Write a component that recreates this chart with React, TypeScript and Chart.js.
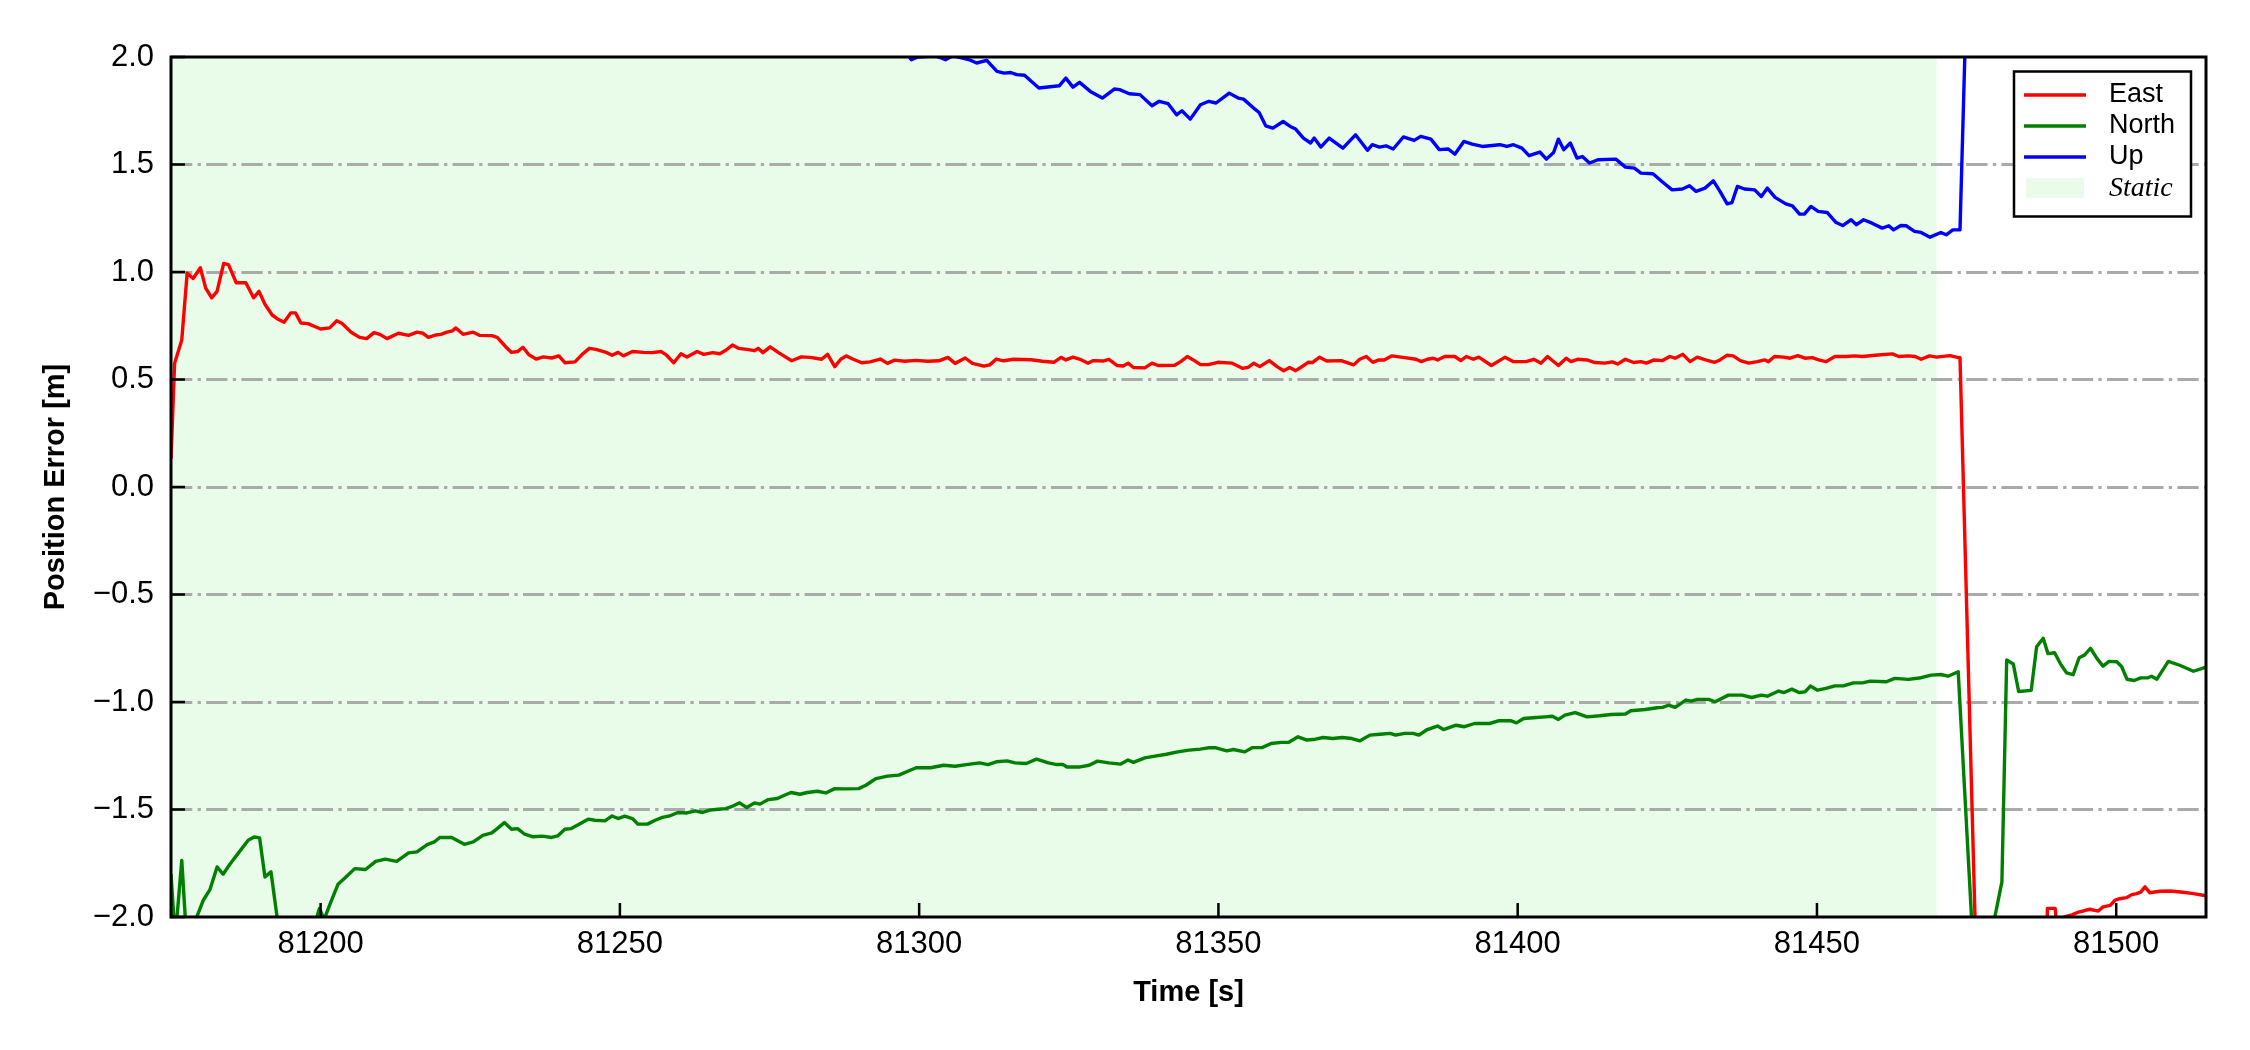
import React, { useEffect, useRef } from "react";
import { Chart, registerables } from "chart.js";

Chart.register(...registerables);

const CANVAS_W = 2250;
const CANVAS_H = 1050;

// Time [s] range and position error [m] range
const xRange = [81175, 81515];
const yRange = [-2, 2];
const xTickValues = [81200, 81250, 81300, 81350, 81400, 81450, 81500];
const yTickValues = [-2, -1.5, -1, -0.5, 0, 0.5, 1, 1.5, 2];
const staticSpan = [81175, 81470];

const legendLabels = ["East", "North", "Up", "Static"];
const seriesColors = ["#ff0000", "#008000", "#0000ff"];
const staticColor = "rgb(233,252,233)";

const eastSeries: [number, number][] = [
  [81175.0, 0.13], [81175.6, 0.575], [81176.8, 0.684], [81177.7, 0.995], [81178.7, 0.97],
  [81179.9, 1.02], [81180.8, 0.925], [81181.8, 0.88], [81182.7, 0.91], [81183.8, 1.04],
  [81184.6, 1.034], [81185.9, 0.95], [81187.5, 0.95], [81188.8, 0.88], [81189.7, 0.91],
  [81190.7, 0.85], [81191.9, 0.8], [81192.9, 0.78], [81193.9, 0.766], [81195.0, 0.81],
  [81195.8, 0.81], [81196.7, 0.763], [81197.9, 0.76], [81200.0, 0.735], [81201.5, 0.74],
  [81202.7, 0.773], [81203.6, 0.76], [81205.1, 0.72], [81206.5, 0.696], [81207.7, 0.69],
  [81208.9, 0.718], [81209.9, 0.71], [81211.1, 0.69], [81213.0, 0.715], [81214.7, 0.705],
  [81216.1, 0.72], [81217.1, 0.715], [81218.0, 0.696], [81219.2, 0.707], [81220.1, 0.71],
  [81221.1, 0.72], [81222.0, 0.726], [81222.6, 0.74], [81223.8, 0.71], [81225.5, 0.72],
  [81226.6, 0.705], [81228.6, 0.704], [81229.5, 0.696], [81231.0, 0.65], [81231.9, 0.626],
  [81232.9, 0.63], [81233.8, 0.65], [81234.8, 0.615], [81236.0, 0.595], [81237.2, 0.605],
  [81238.6, 0.6], [81239.8, 0.61], [81240.8, 0.578], [81242.5, 0.582], [81243.7, 0.617],
  [81244.9, 0.645], [81246.0, 0.64], [81247.7, 0.626], [81248.7, 0.613], [81249.7, 0.626],
  [81250.6, 0.61], [81252.1, 0.63], [81254.0, 0.626], [81255.4, 0.625], [81256.9, 0.63],
  [81257.8, 0.613], [81259.0, 0.578], [81260.2, 0.62], [81261.2, 0.605], [81262.9, 0.63],
  [81264.0, 0.617], [81265.5, 0.625], [81266.7, 0.62], [81267.7, 0.636], [81268.8, 0.66],
  [81269.8, 0.645], [81271.2, 0.64], [81272.5, 0.634], [81273.1, 0.645], [81273.9, 0.625],
  [81275.1, 0.652], [81276.5, 0.625], [81278.7, 0.587], [81280.3, 0.605], [81281.8, 0.603],
  [81283.7, 0.594], [81284.7, 0.617], [81285.9, 0.56], [81286.9, 0.594], [81287.8, 0.61],
  [81289.0, 0.594], [81290.4, 0.578], [81291.8, 0.582], [81293.5, 0.595], [81294.7, 0.575],
  [81295.9, 0.59], [81297.6, 0.585], [81299.5, 0.589], [81301.4, 0.585], [81303.3, 0.587],
  [81304.8, 0.603], [81306.0, 0.575], [81307.7, 0.6], [81308.9, 0.575], [81310.8, 0.562],
  [81311.8, 0.568], [81312.9, 0.595], [81314.1, 0.587], [81315.8, 0.594], [81318.7, 0.592],
  [81320.6, 0.585], [81322.5, 0.58], [81323.7, 0.603], [81324.5, 0.591], [81325.7, 0.604],
  [81326.9, 0.594], [81328.2, 0.576], [81329.1, 0.588], [81330.7, 0.586], [81331.7, 0.594],
  [81333.1, 0.565], [81334.1, 0.563], [81334.9, 0.576], [81335.8, 0.556], [81337.7, 0.554],
  [81338.9, 0.576], [81339.9, 0.565], [81342.7, 0.566], [81343.7, 0.583], [81344.8, 0.607],
  [81345.8, 0.591], [81347.0, 0.569], [81348.3, 0.569], [81349.9, 0.58], [81352.3, 0.576],
  [81354.0, 0.552], [81355.0, 0.557], [81355.9, 0.576], [81356.9, 0.56], [81358.5, 0.588],
  [81359.8, 0.56], [81360.9, 0.541], [81361.9, 0.556], [81362.9, 0.541], [81363.8, 0.557],
  [81365.0, 0.58], [81365.7, 0.579], [81366.9, 0.604], [81368.1, 0.586], [81370.5, 0.588],
  [81372.6, 0.568], [81373.6, 0.594], [81374.7, 0.607], [81375.8, 0.58], [81376.8, 0.591],
  [81377.7, 0.591], [81379.0, 0.61], [81381.1, 0.602], [81383.0, 0.594], [81383.9, 0.583],
  [81384.9, 0.594], [81385.9, 0.599], [81386.6, 0.591], [81387.8, 0.607], [81389.5, 0.607],
  [81390.5, 0.588], [81391.4, 0.607], [81392.6, 0.594], [81393.5, 0.604], [81395.6, 0.565],
  [81397.9, 0.604], [81399.3, 0.583], [81401.4, 0.583], [81402.7, 0.594], [81403.9, 0.576],
  [81405.0, 0.607], [81406.8, 0.565], [81408.1, 0.599], [81408.9, 0.583], [81410.0, 0.594],
  [81411.6, 0.591], [81412.9, 0.579], [81414.6, 0.576], [81415.8, 0.582], [81416.7, 0.572],
  [81418.0, 0.594], [81419.4, 0.579], [81420.6, 0.583], [81421.5, 0.576], [81422.8, 0.591],
  [81424.2, 0.588], [81425.4, 0.607], [81426.3, 0.599], [81427.6, 0.617], [81428.8, 0.583],
  [81430.0, 0.604], [81431.4, 0.591], [81432.9, 0.58], [81433.8, 0.591], [81435.0, 0.613],
  [81436.0, 0.61], [81437.2, 0.588], [81438.6, 0.576], [81440.0, 0.583], [81441.3, 0.591],
  [81441.9, 0.583], [81442.9, 0.607], [81444.4, 0.604], [81445.5, 0.599], [81446.8, 0.611],
  [81448.0, 0.599], [81449.2, 0.602], [81450.3, 0.591], [81451.5, 0.583], [81453.0, 0.607],
  [81454.9, 0.607], [81456.3, 0.61], [81457.6, 0.607], [81459.7, 0.613], [81462.6, 0.619],
  [81463.7, 0.607], [81465.3, 0.61], [81466.4, 0.607], [81467.4, 0.594], [81468.8, 0.61],
  [81470.0, 0.604], [81472.2, 0.611], [81473.3, 0.604], [81473.9, 0.601], [81477.0, -2.62],
  [81487.5, -2.6], [81488.3, -2.3], [81488.5, -1.96], [81489.8, -1.96], [81490.3, -2.12],
  [81491.3, -2.0], [81492.6, -1.99], [81493.7, -1.977], [81494.5, -1.972], [81495.6, -1.964],
  [81496.4, -1.969], [81497.0, -1.972], [81497.8, -1.953], [81499.0, -1.946], [81499.8, -1.922],
  [81500.6, -1.915], [81501.7, -1.91], [81502.6, -1.896], [81503.4, -1.891], [81504.1, -1.884],
  [81504.8, -1.86], [81505.6, -1.887], [81507.3, -1.88], [81509.0, -1.879], [81511.2, -1.885],
  [81512.9, -1.891], [81515.0, -1.901],
];

const northSeries: [number, number][] = [
  [81175.0, -1.8], [81175.7, -2.1], [81176.8, -1.737], [81177.6, -2.1], [81178.6, -2.05],
  [81180.4, -1.922], [81181.5, -1.873], [81182.7, -1.767], [81183.7, -1.801], [81184.9, -1.752],
  [81186.6, -1.69], [81187.9, -1.643], [81188.9, -1.628], [81189.8, -1.632], [81190.7, -1.814],
  [81191.7, -1.79], [81193.7, -2.2], [81198.5, -2.08], [81199.8, -1.961], [81200.6, -2.01],
  [81201.6, -1.938], [81202.9, -1.848], [81204.1, -1.817], [81205.7, -1.775], [81207.5, -1.779],
  [81209.2, -1.741], [81210.8, -1.731], [81212.7, -1.741], [81214.7, -1.702], [81216.1, -1.697],
  [81217.8, -1.663], [81219.0, -1.651], [81219.9, -1.63], [81221.9, -1.63], [81224.0, -1.662],
  [81225.5, -1.651], [81227.1, -1.62], [81228.6, -1.609], [81229.5, -1.589], [81230.7, -1.561],
  [81231.9, -1.592], [81232.9, -1.589], [81234.1, -1.615], [81235.5, -1.627], [81237.0, -1.624],
  [81238.6, -1.63], [81239.6, -1.623], [81240.8, -1.592], [81241.8, -1.589], [81243.1, -1.57],
  [81244.7, -1.545], [81245.8, -1.55], [81247.5, -1.553], [81248.7, -1.53], [81249.7, -1.542],
  [81250.8, -1.531], [81252.1, -1.542], [81253.0, -1.568], [81254.6, -1.568], [81255.9, -1.55],
  [81257.1, -1.537], [81258.3, -1.53], [81259.7, -1.514], [81261.2, -1.516], [81262.6, -1.506],
  [81263.8, -1.514], [81265.0, -1.503], [81266.4, -1.499], [81267.7, -1.496], [81268.8, -1.485],
  [81270.0, -1.469], [81271.2, -1.491], [81272.5, -1.469], [81273.4, -1.475], [81274.8, -1.454],
  [81276.3, -1.449], [81277.5, -1.434], [81278.6, -1.421], [81280.1, -1.429], [81281.3, -1.421],
  [81283.0, -1.415], [81284.4, -1.423], [81285.9, -1.403], [81287.5, -1.404], [81289.9, -1.403],
  [81291.1, -1.387], [81292.8, -1.356], [81294.7, -1.345], [81296.6, -1.34], [81298.1, -1.322],
  [81299.5, -1.306], [81301.9, -1.306], [81304.1, -1.294], [81306.0, -1.299], [81307.9, -1.291],
  [81310.1, -1.283], [81311.5, -1.291], [81312.9, -1.278], [81314.7, -1.274], [81316.0, -1.283],
  [81317.9, -1.286], [81319.6, -1.266], [81321.6, -1.283], [81323.0, -1.291], [81324.0, -1.29],
  [81324.7, -1.302], [81326.9, -1.302], [81328.4, -1.294], [81329.8, -1.275], [81331.7, -1.283],
  [81333.6, -1.289], [81334.9, -1.27], [81335.8, -1.281], [81337.7, -1.26], [81339.4, -1.252],
  [81341.3, -1.243], [81343.2, -1.232], [81345.1, -1.224], [81347.0, -1.219], [81348.5, -1.212],
  [81349.6, -1.213], [81351.4, -1.227], [81352.5, -1.221], [81354.4, -1.232], [81355.7, -1.212],
  [81357.3, -1.212], [81358.8, -1.193], [81360.5, -1.188], [81361.7, -1.188], [81363.3, -1.162],
  [81364.8, -1.177], [81366.2, -1.173], [81367.5, -1.165], [81369.1, -1.17], [81370.7, -1.165],
  [81372.3, -1.17], [81373.6, -1.181], [81375.3, -1.154], [81377.0, -1.15], [81378.7, -1.146],
  [81379.6, -1.154], [81381.1, -1.146], [81382.5, -1.146], [81383.5, -1.154], [81384.9, -1.128],
  [81386.6, -1.112], [81387.6, -1.128], [81389.7, -1.108], [81391.1, -1.115], [81392.8, -1.1],
  [81395.3, -1.1], [81396.9, -1.087], [81398.8, -1.087], [81399.8, -1.097], [81401.0, -1.077],
  [81403.1, -1.072], [81404.6, -1.069], [81405.8, -1.066], [81406.8, -1.081], [81407.9, -1.061],
  [81409.6, -1.049], [81411.6, -1.069], [81413.7, -1.064], [81415.6, -1.058], [81418.0, -1.056],
  [81418.9, -1.041], [81421.3, -1.035], [81423.3, -1.027], [81424.2, -1.025], [81425.2, -1.015],
  [81426.3, -1.025], [81428.1, -0.991], [81429.0, -0.996], [81430.0, -0.988], [81431.9, -0.988],
  [81433.0, -0.999], [81435.2, -0.968], [81437.5, -0.968], [81439.1, -0.979], [81440.7, -0.968],
  [81441.7, -0.973], [81443.6, -0.949], [81444.5, -0.956], [81445.8, -0.94], [81447.0, -0.956],
  [81448.0, -0.953], [81448.9, -0.926], [81450.1, -0.945], [81451.5, -0.937], [81453.0, -0.925],
  [81454.4, -0.925], [81456.1, -0.911], [81457.6, -0.911], [81458.9, -0.903], [81461.6, -0.906],
  [81463.0, -0.89], [81465.3, -0.895], [81467.4, -0.887], [81469.1, -0.875], [81470.7, -0.872],
  [81471.9, -0.88], [81473.6, -0.859], [81476.5, -2.35], [81477.5, -2.5], [81479.0, -2.1],
  [81480.9, -1.837], [81481.7, -0.805], [81482.8, -0.823], [81483.7, -0.951], [81485.8, -0.946],
  [81486.7, -0.743], [81487.8, -0.704], [81488.6, -0.775], [81489.7, -0.771], [81490.8, -0.828],
  [81491.7, -0.864], [81492.8, -0.873], [81493.8, -0.794], [81494.7, -0.782], [81495.7, -0.75],
  [81496.8, -0.798], [81497.8, -0.833], [81498.8, -0.811], [81500.1, -0.813], [81500.9, -0.835],
  [81501.8, -0.894], [81503.0, -0.9], [81504.1, -0.888], [81505.3, -0.887], [81505.9, -0.88],
  [81506.8, -0.894], [81508.7, -0.811], [81510.6, -0.829], [81512.9, -0.857], [81515.0, -0.838],
];

const upSeries: [number, number][] = [
  [81175.0, 3.2], [81250.0, 2.6], [81290.0, 2.15], [81297.8, 2.02], [81298.7, 1.987],
  [81299.8, 2.0], [81302.7, 2.006], [81304.4, 1.987], [81305.6, 2.006], [81308.4, 1.987],
  [81309.6, 1.972], [81311.3, 1.984], [81313.0, 1.933], [81314.2, 1.925], [81315.3, 1.928],
  [81316.3, 1.918], [81317.6, 1.915], [81320.0, 1.856], [81323.4, 1.866], [81324.5, 1.902],
  [81325.7, 1.86], [81326.8, 1.882], [81328.6, 1.84], [81330.6, 1.809], [81332.6, 1.851],
  [81333.5, 1.848], [81335.1, 1.829], [81336.9, 1.825], [81338.9, 1.773], [81340.1, 1.794],
  [81341.6, 1.783], [81343.0, 1.731], [81343.9, 1.75], [81345.3, 1.711], [81347.0, 1.778],
  [81348.4, 1.794], [81349.6, 1.786], [81351.8, 1.832], [81353.3, 1.809], [81354.2, 1.804],
  [81356.2, 1.755], [81356.8, 1.742], [81357.9, 1.68], [81359.1, 1.669], [81360.8, 1.7],
  [81362.0, 1.677], [81362.9, 1.665], [81364.2, 1.623], [81365.4, 1.6], [81366.0, 1.623],
  [81367.1, 1.581], [81368.5, 1.623], [81370.8, 1.576], [81372.9, 1.638], [81374.9, 1.566],
  [81375.7, 1.592], [81376.9, 1.581], [81378.0, 1.587], [81379.2, 1.572], [81380.9, 1.628],
  [81382.7, 1.612], [81383.8, 1.631], [81385.5, 1.618], [81386.9, 1.569], [81388.4, 1.572],
  [81389.5, 1.548], [81391.0, 1.607], [81392.4, 1.595], [81394.1, 1.584], [81397.0, 1.592],
  [81398.2, 1.584], [81399.3, 1.592], [81400.7, 1.576], [81401.9, 1.541], [81403.7, 1.558],
  [81404.8, 1.525], [81406.0, 1.556], [81406.8, 1.618], [81407.7, 1.569], [81408.8, 1.6],
  [81409.9, 1.53], [81410.8, 1.537], [81412.0, 1.507], [81413.4, 1.522], [81416.4, 1.525],
  [81418.0, 1.488], [81419.5, 1.483], [81420.6, 1.46], [81422.6, 1.457], [81424.1, 1.421],
  [81425.8, 1.382], [81427.5, 1.386], [81428.7, 1.401], [81429.8, 1.375], [81431.3, 1.39],
  [81432.7, 1.424], [81433.8, 1.375], [81435.0, 1.317], [81435.8, 1.323], [81436.7, 1.398],
  [81437.9, 1.386], [81439.6, 1.382], [81440.7, 1.351], [81441.7, 1.39], [81443.0, 1.347],
  [81444.8, 1.317], [81445.9, 1.308], [81447.1, 1.269], [81447.9, 1.269], [81449.0, 1.305],
  [81450.2, 1.282], [81451.7, 1.277], [81453.2, 1.23], [81454.3, 1.216], [81455.7, 1.243],
  [81456.6, 1.22], [81457.8, 1.243], [81459.2, 1.227], [81460.9, 1.204], [81462.0, 1.215],
  [81462.8, 1.196], [81464.0, 1.216], [81464.9, 1.215], [81466.3, 1.189], [81467.4, 1.184],
  [81468.9, 1.162], [81470.7, 1.184], [81471.6, 1.173], [81472.7, 1.196], [81473.9, 1.196],
  [81475.0, 2.3], [81490.0, 3.0], [81515.0, 3.3],
];

const FONT_SANS = "'Liberation Sans', Arial, Helvetica, sans-serif";
const FONT_SERIF = "'Liberation Serif', 'Times New Roman', serif";

function fmtY(v: number): string {
  const s = Math.abs(v).toFixed(1);
  return v < 0 ? "\u2212" + s : s;
}

export default function App() {
  const ref = useRef<HTMLCanvasElement>(null);

  useEffect(() => {
    document.body.style.margin = "0";
    const canvas = ref.current;
    if (!canvas) return;

    const toXY = (s: [number, number][]) => s.map(([x, y]) => ({ x, y }));

    const staticPlugin = {
      id: "staticSpan",
      beforeDraw(chart: any) {
        const { ctx, chartArea: a, scales } = chart;
        const x0 = Math.max(a.left, scales.x.getPixelForValue(staticSpan[0]));
        const x1 = Math.min(a.right, scales.x.getPixelForValue(staticSpan[1]));
        ctx.save();
        ctx.fillStyle = staticColor;
        ctx.fillRect(x0, a.top, x1 - x0, a.bottom - a.top);
        ctx.restore();
      },
    };

    const framePlugin = {
      id: "frameTicks",
      afterDatasetsDraw(chart: any) {
        const { ctx, chartArea: a, scales } = chart;
        ctx.save();
        ctx.strokeStyle = "#000";
        ctx.lineWidth = 2.5;
        ctx.beginPath();
        xTickValues.forEach((v) => {
          const px = scales.x.getPixelForValue(v);
          ctx.moveTo(px, a.bottom);
          ctx.lineTo(px, a.bottom - 14);
        });
        yTickValues.forEach((v) => {
          const py = scales.y.getPixelForValue(v);
          ctx.moveTo(a.left, py);
          ctx.lineTo(a.left + 14, py);
        });
        ctx.stroke();
        ctx.lineWidth = 3;
        ctx.strokeRect(a.left, a.top, a.right - a.left, a.bottom - a.top);
        ctx.restore();
      },
    };

    const legendPlugin = {
      id: "customLegend",
      afterDraw(chart: any) {
        const { ctx, chartArea: a } = chart;
        const bx = a.right - 192;
        const by = a.top + 14.5;
        const bw = 177;
        const bh = 145;
        ctx.save();
        ctx.fillStyle = "#fff";
        ctx.fillRect(bx, by, bw, bh);
        ctx.strokeStyle = "#000";
        ctx.lineWidth = 2.5;
        ctx.strokeRect(bx, by, bw, bh);
        const rowY = [a.top + 38, a.top + 69, a.top + 100, a.top + 131];
        for (let i = 0; i < 3; i++) {
          ctx.strokeStyle = seriesColors[i];
          ctx.lineWidth = 3.4;
          ctx.beginPath();
          ctx.moveTo(bx + 10, rowY[i]);
          ctx.lineTo(bx + 72, rowY[i]);
          ctx.stroke();
        }
        ctx.fillStyle = staticColor;
        ctx.fillRect(bx + 12, rowY[3] - 10, 58, 20);
        ctx.fillStyle = "#000";
        ctx.textAlign = "left";
        ctx.textBaseline = "middle";
        ctx.font = `27px ${FONT_SANS}`;
        for (let i = 0; i < 3; i++) {
          ctx.fillText(legendLabels[i], bx + 95, rowY[i]);
        }
        ctx.font = `italic 28px ${FONT_SERIF}`;
        ctx.fillText(legendLabels[3], bx + 95, rowY[3] + 1);
        ctx.restore();
      },
    };

    const tickFont = { family: FONT_SANS, size: 31 };
    const titleFont = { family: FONT_SANS, size: 29, weight: "bold" as const };

    const chart = new Chart(canvas, {
      type: "line",
      data: {
        datasets: [
          { label: legendLabels[0], data: toXY(eastSeries), borderColor: seriesColors[0], order: 2 },
          { label: legendLabels[1], data: toXY(northSeries), borderColor: seriesColors[1], order: 1 },
          { label: legendLabels[2], data: toXY(upSeries), borderColor: seriesColors[2], order: 0 },
        ],
      },
      options: {
        animation: false,
        responsive: false,
        devicePixelRatio: 1,
        events: [],
        layout: { padding: { left: 0, right: 44, top: 57, bottom: 0 } },
        elements: {
          point: { radius: 0 },
          line: { borderWidth: 3.4, tension: 0, fill: false, borderJoinStyle: "round", borderCapStyle: "butt" },
        },
        datasets: { line: { clip: 0 } as any },
        plugins: { legend: { display: false }, tooltip: { enabled: false } },
        scales: {
          x: {
            type: "linear",
            min: xRange[0],
            max: xRange[1],
            afterBuildTicks: (scale: any) => {
              scale.ticks = xTickValues.map((value) => ({ value }));
            },
            afterFit: (scale: any) => {
              scale.height = 133;
            },
            grid: { display: false, drawTicks: false },
            border: { display: false },
            ticks: {
              font: tickFont,
              color: "#000",
              padding: 9,
              maxRotation: 0,
              autoSkip: false,
              callback: (v: any) => String(v),
            },
            title: {
              display: true,
              text: "Time [s]",
              font: titleFont,
              color: "#000",
              padding: { top: 0, bottom: 40 },
            },
          },
          y: {
            type: "linear",
            min: yRange[0],
            max: yRange[1],
            afterBuildTicks: (scale: any) => {
              scale.ticks = yTickValues.map((value) => ({ value }));
            },
            afterFit: (scale: any) => {
              scale.width = 171;
            },
            grid: {
              drawTicks: false,
              lineWidth: 3,
              color: (c: any) =>
                c.tick && (c.tick.value === yRange[0] || c.tick.value === yRange[1])
                  ? "rgba(0,0,0,0)"
                  : "#aaaaaa",
            },
            border: { display: false, dash: [21.3, 5.3, 3.3, 5.3] },
            ticks: {
              font: tickFont,
              color: "#000",
              padding: 17,
              autoSkip: false,
              callback: (v: any) => fmtY(Number(v)),
            },
            title: {
              display: true,
              text: "Position Error [m]",
              font: titleFont,
              color: "#000",
              padding: { top: 38.5, bottom: 0 },
            },
          },
        },
      },
      plugins: [staticPlugin, framePlugin, legendPlugin],
    });

    return () => chart.destroy();
  }, []);

  return (
    <div style={{ width: CANVAS_W, height: CANVAS_H, background: "#fff" }}>
      <canvas
        ref={ref}
        width={CANVAS_W}
        height={CANVAS_H}
        style={{ display: "block", width: CANVAS_W, height: CANVAS_H }}
      />
    </div>
  );
}
